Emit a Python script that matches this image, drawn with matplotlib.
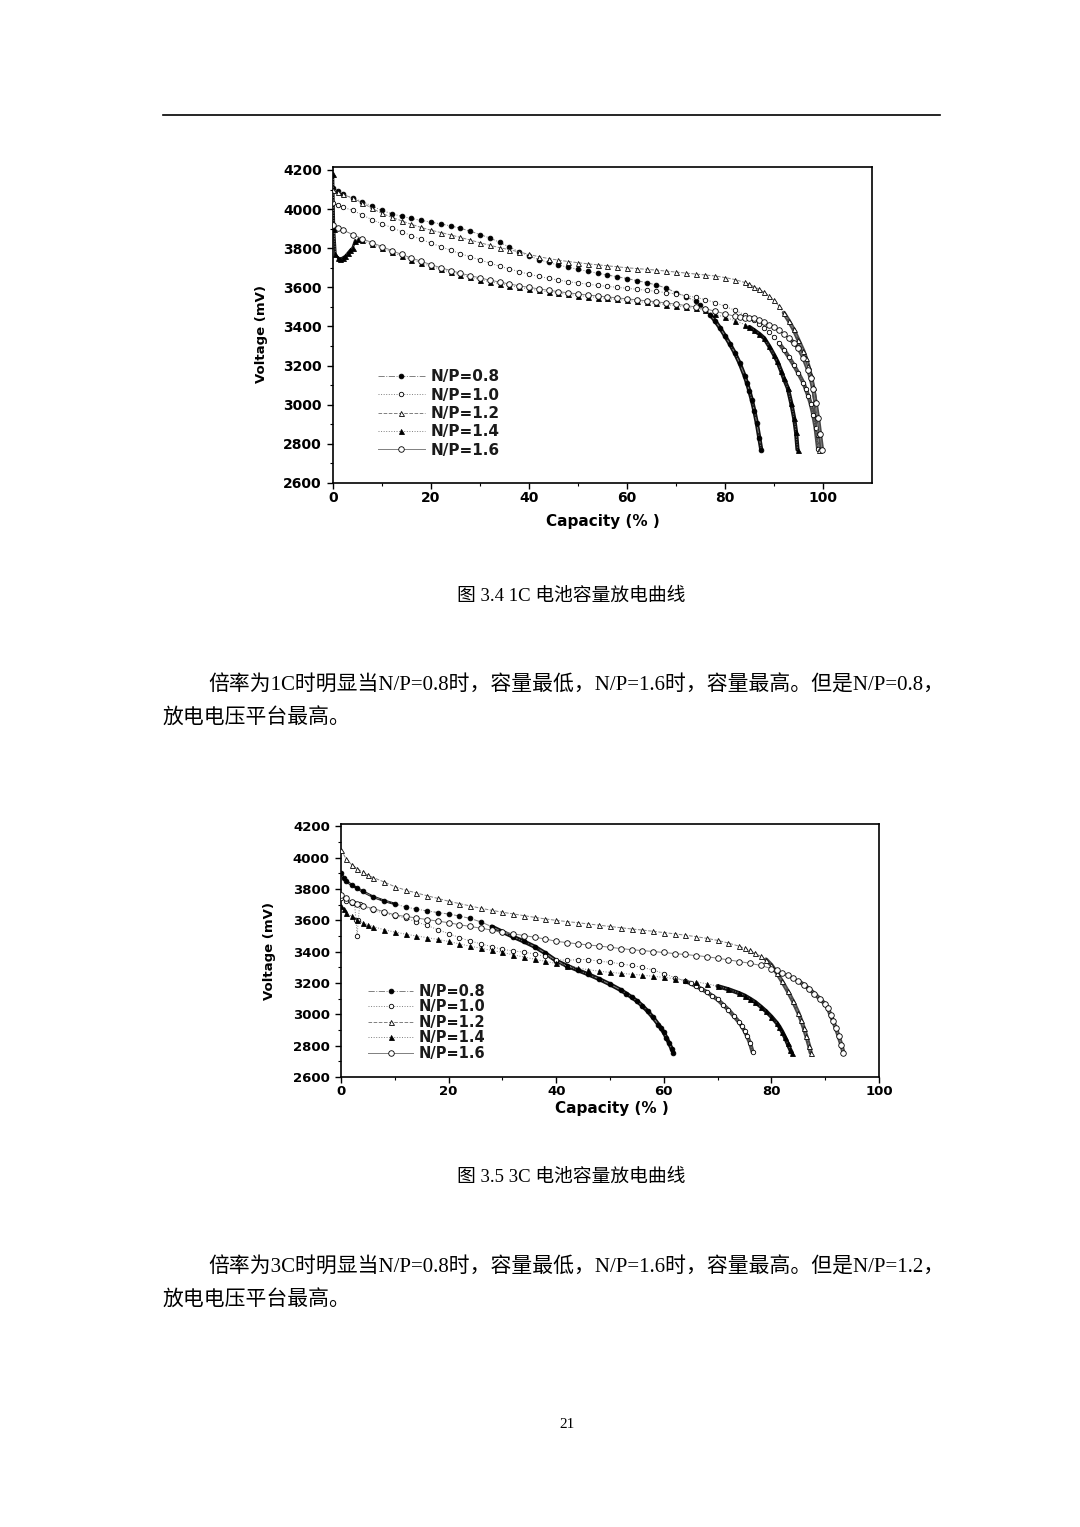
import numpy as np
import matplotlib.pyplot as plt
from matplotlib.lines import Line2D
from matplotlib.ticker import MultipleLocator

plt.rcParams['font.family'] = ['DejaVu Sans']

labels = ['N/P=0.8', 'N/P=1.0', 'N/P=1.2', 'N/P=1.4', 'N/P=1.6']

# ---- 1C discharge (Capacity %, Voltage mV) ----
x08_1c = [0, 1, 2, 4, 6, 8, 10, 12, 14, 16, 18, 20, 22, 24, 26, 28, 30, 32, 34, 36, 38, 40, 42, 44, 46, 48, 50,
          52, 54, 56, 58, 60, 62, 64, 66, 68, 70, 72, 74, 75, 76, 77, 78, 79, 80, 81, 82, 83, 84, 84.5, 85, 85.5,
          86, 86.5, 87, 87.4]
v08_1c = [4110, 4090, 4075, 4058, 4038, 4015, 3993, 3976, 3963, 3952, 3942, 3933, 3924, 3914, 3902, 3887, 3870,
          3852, 3830, 3806, 3782, 3760, 3742, 3727, 3714, 3703, 3692, 3682, 3672, 3663, 3654, 3645, 3634, 3624,
          3612, 3596, 3573, 3552, 3530, 3510, 3487, 3460, 3428, 3392, 3352, 3310, 3265, 3212, 3148, 3110, 3068,
          3022, 2968, 2905, 2830, 2770]

x10_1c = [0, 1, 2, 4, 6, 8, 10, 12, 14, 16, 18, 20, 22, 24, 26, 28, 30, 32, 34, 36, 38, 40, 42, 44, 46, 48, 50,
          52, 54, 56, 58, 60, 62, 64, 66, 68, 70, 72, 74, 76, 78, 80, 82, 84, 86, 87, 88, 89, 90, 91, 92, 93, 94,
          95, 96, 96.5, 97, 97.5, 98, 98.5, 99]
v10_1c = [4030, 4020, 4010, 3993, 3970, 3945, 3925, 3905, 3885, 3864, 3845, 3826, 3808, 3790, 3772, 3756, 3740,
          3724, 3708, 3694, 3680, 3667, 3656, 3646, 3637, 3629, 3622, 3616, 3610, 3605, 3600, 3595, 3590, 3585,
          3579, 3573, 3566, 3558, 3549, 3537, 3522, 3503, 3483, 3460, 3432, 3414, 3394, 3370, 3345, 3315, 3282,
          3245, 3204, 3160, 3112, 3080, 3045, 3005, 2950, 2880, 2775]

x12_1c = [0, 1, 2, 4, 6, 8, 10, 12, 14, 16, 18, 20, 22, 24, 26, 28, 30, 32, 34, 36, 38, 40, 42, 44, 46, 48, 50,
          52, 54, 56, 58, 60, 62, 64, 66, 68, 70, 72, 74, 76, 78, 80, 82, 84, 85, 86, 87, 88, 89, 90, 91, 92, 93,
          94, 95, 96, 96.5, 97, 97.5, 98, 98.4, 98.7, 99.0, 99.2]
v12_1c = [4100, 4088, 4076, 4055, 4032, 4003, 3978, 3958, 3940, 3922, 3906, 3892, 3880, 3868, 3855, 3842, 3828,
          3815, 3803, 3792, 3781, 3768, 3757, 3747, 3739, 3732, 3726, 3720, 3715, 3710, 3705, 3700, 3696, 3692,
          3688, 3683, 3678, 3673, 3668, 3663, 3658, 3650, 3640, 3625, 3615, 3603, 3590, 3574, 3556, 3533, 3505,
          3470, 3430, 3385, 3330, 3275, 3240, 3200, 3150, 3090, 3020, 2940, 2850, 2770]

x14_1c = [0, 0.2, 0.5, 1, 1.5, 2, 2.5, 3, 3.5, 4, 4.5, 5, 6, 8, 10, 12, 14, 16, 18, 20, 22, 24, 26, 28, 30, 32,
          34, 36, 38, 40, 42, 44, 46, 48, 50, 52, 54, 56, 58, 60, 62, 64, 66, 68, 70, 72, 74, 76, 78, 80, 82, 84,
          85, 86, 87, 88, 89, 90, 90.7, 91.5, 92, 92.8, 93.5, 94.1, 94.5, 94.8]
v14_1c = [4180, 3900, 3770, 3752, 3745, 3752, 3760, 3775, 3790, 3802, 3838, 3846, 3840, 3820, 3800, 3780, 3760,
          3742, 3725, 3708, 3692, 3678, 3664, 3652, 3640, 3629, 3619, 3609, 3600, 3592, 3584, 3577, 3570, 3564,
          3558, 3553, 3548, 3543, 3538, 3533, 3528, 3523, 3518, 3512, 3506, 3499, 3492, 3482, 3462, 3447, 3430,
          3410, 3397, 3380, 3362, 3340, 3300, 3255, 3221, 3170, 3135, 3086, 3010, 2933, 2860, 2770]

x16_1c = [0, 1, 2, 4, 6, 8, 10, 12, 14, 16, 18, 20, 22, 24, 26, 28, 30, 32, 34, 36, 38, 40, 42, 44, 46, 48, 50,
          52, 54, 56, 58, 60, 62, 64, 66, 68, 70, 72, 74, 76, 78, 80, 82, 83, 84, 85, 86, 87, 88, 89, 90, 91, 92,
          93, 94, 95, 96, 97, 97.5, 98, 98.5, 99, 99.4, 99.8]
v16_1c = [3920, 3905, 3893, 3870, 3848, 3828, 3808, 3788, 3768, 3750, 3733, 3716, 3700, 3686, 3672, 3660, 3648,
          3637, 3627, 3617, 3608, 3600, 3592, 3585, 3578, 3572, 3566, 3561, 3556, 3551, 3546, 3541, 3536, 3531,
          3526, 3520, 3514, 3507, 3500, 3490, 3478, 3465, 3452, 3446, 3442, 3444, 3442, 3434, 3423, 3410, 3395,
          3380, 3362, 3340, 3318, 3290, 3240, 3175, 3135, 3080, 3010, 2930, 2850, 2770]

# ---- 3C discharge ----
x08_3c = [0, 0.5, 1, 2, 3, 4, 6, 8, 10, 12, 14, 16, 18, 20, 22, 24, 26, 28, 30, 32, 34, 36, 38, 40, 42, 44, 46,
          48, 50, 52, 53, 54, 55, 56, 57, 58, 59, 59.5, 60, 60.5, 61, 61.5, 61.8]
v08_3c = [3900, 3870, 3850, 3825, 3805, 3785, 3750, 3725, 3705, 3685, 3672, 3660, 3650, 3640, 3628, 3612, 3590,
          3560, 3527, 3495, 3465, 3432, 3390, 3342, 3310, 3282, 3255, 3225, 3192, 3155, 3133, 3110, 3085, 3055,
          3020, 2980, 2935, 2910, 2885, 2850, 2815, 2778, 2755]

x10_3c = [0, 1, 2, 2.5, 2.8, 3.0, 3.2, 3.5, 4, 6, 8, 10, 12, 14, 16, 18, 20, 22, 24, 26, 28, 30, 32, 34, 36, 38,
          40, 42, 44, 46, 48, 50, 52, 54, 56, 58, 60, 62, 64, 65, 66, 67, 68, 69, 70, 71, 72, 73, 74, 74.5, 75,
          75.5, 76, 76.5]
v10_3c = [3740, 3725, 3712, 3710, 3600, 3500, 3600, 3705, 3690, 3665, 3645, 3630, 3615, 3590, 3568, 3540, 3515,
          3490, 3468, 3450, 3432, 3415, 3405, 3397, 3385, 3370, 3350, 3344, 3350, 3350, 3338, 3333, 3322, 3312,
          3300, 3283, 3260, 3235, 3212, 3197, 3180, 3162, 3142, 3118, 3095, 3062, 3030, 2990, 2950, 2925, 2895,
          2860, 2820, 2760]

x12_3c = [0, 1, 2, 3, 4, 5, 6, 8, 10, 12, 14, 16, 18, 20, 22, 24, 26, 28, 30, 32, 34, 36, 38, 40, 42, 44, 46, 48,
          50, 52, 54, 56, 58, 60, 62, 64, 66, 68, 70, 72, 74, 75, 76, 77, 78, 79, 80, 81, 82, 83, 84, 85, 85.5,
          86, 86.5, 87, 87.3]
v12_3c = [4050, 3990, 3955, 3930, 3908, 3890, 3873, 3845, 3815, 3793, 3775, 3757, 3740, 3722, 3707, 3692, 3677,
          3664, 3652, 3641, 3630, 3619, 3609, 3600, 3592, 3585, 3577, 3569, 3561, 3553, 3545, 3538, 3530, 3522,
          3514, 3505, 3496, 3485, 3472, 3455, 3435, 3422, 3408, 3390, 3370, 3350, 3315, 3265, 3210, 3150, 3085,
          3010, 2965, 2915, 2860, 2800, 2755]

x14_3c = [0, 0.5, 1, 2, 3, 4, 5, 6, 8, 10, 12, 14, 16, 18, 20, 22, 24, 26, 28, 30, 32, 34, 36, 38, 40, 42, 44, 46,
          48, 50, 52, 54, 56, 58, 60, 62, 64, 66, 68, 70, 72, 74, 75, 76, 77, 78, 79, 80, 81, 81.5, 82, 82.5, 83,
          83.5, 83.8]
v14_3c = [3690, 3670, 3650, 3625, 3600, 3585, 3572, 3560, 3540, 3525, 3512, 3500, 3490, 3478, 3465, 3450, 3435,
          3422, 3408, 3395, 3380, 3366, 3352, 3338, 3325, 3310, 3296, 3285, 3275, 3268, 3262, 3256, 3250, 3243,
          3236, 3228, 3218, 3207, 3195, 3180, 3160, 3135, 3120, 3100, 3078, 3050, 3020, 2985, 2945, 2920, 2890,
          2855, 2815, 2775, 2755]

x16_3c = [0, 1, 2, 3, 4, 6, 8, 10, 12, 14, 16, 18, 20, 22, 24, 26, 28, 30, 32, 34, 36, 38, 40, 42, 44, 46, 48, 50,
          52, 54, 56, 58, 60, 62, 64, 66, 68, 70, 72, 74, 76, 78, 80, 81, 82, 83, 84, 85, 86, 87, 88, 89, 90, 90.5,
          91, 91.5, 92, 92.5, 93, 93.4]
v16_3c = [3760, 3740, 3720, 3705, 3693, 3675, 3655, 3635, 3625, 3615, 3605, 3595, 3585, 3572, 3561, 3550, 3538,
          3525, 3514, 3503, 3492, 3481, 3466, 3458, 3450, 3443, 3436, 3428, 3420, 3413, 3407, 3401, 3395, 3388,
          3382, 3375, 3368, 3358, 3348, 3337, 3326, 3312, 3292, 3280, 3265, 3250, 3233, 3213, 3190, 3163, 3132,
          3100, 3065, 3040, 2995, 2955, 2910, 2860, 2805, 2755]

# marker / line style per series (0.8, 1.0, 1.2, 1.4, 1.6)
markers = ['o', 'o', '^', '^', 'o']
filled = [True, False, False, True, False]
lstyles = ['-.', ':', '--', ':', '-']
msizes = [3.4, 3.2, 3.6, 3.6, 4.0]

W, H = 1080, 1527
fig = plt.figure(figsize=(W / 100, H / 100), dpi=100)


def draw(ax, xs, vs, tails, heads, lab_size, leg_pos, leg_size, leg_space):
    hs = []
    for i in range(5):
        x = np.array(xs[i], dtype=float)
        v = np.array(vs[i], dtype=float)
        band = '#111111' if filled[i] else '#4a4a4a'
        # dense marker clusters in the steep parts look like a thick band
        m = x >= tails[i]
        ax.plot(x[m], v[m], color=band, lw=3.0, solid_capstyle='round', zorder=2)
        if heads[i] > 0:
            m = x <= heads[i]
            ax.plot(x[m], v[m], color=band, lw=1.8, zorder=2)
        h, = ax.plot(x, v, ls=lstyles[i], color='#808080', lw=0.7, marker=markers[i],
                     ms=msizes[i], mfc='black' if filled[i] else 'white', mec='black',
                     mew=0.6, zorder=3)
        hs.append(h)
    ax.set_ylim(2600, 4215)
    ax.xaxis.set_major_locator(MultipleLocator(20))
    ax.xaxis.set_minor_locator(MultipleLocator(10))
    ax.yaxis.set_major_locator(MultipleLocator(200))
    ax.yaxis.set_minor_locator(MultipleLocator(100))
    ax.tick_params(which='major', direction='out', length=4, width=1.0, labelsize=lab_size, pad=2)
    ax.tick_params(which='minor', direction='out', length=2.5, width=0.8)
    ax.tick_params(axis='y', which='major', pad=4)
    for t in ax.get_xticklabels() + ax.get_yticklabels():
        t.set_fontweight('bold')
    for s in ax.spines.values():
        s.set_linewidth(1.2)
    leg = ax.legend(hs, labels, loc='upper left', bbox_to_anchor=leg_pos, frameon=False,
                    prop={'size': leg_size, 'weight': 'bold'}, handlelength=3.1, handletextpad=0.35,
                    labelspacing=leg_space, borderaxespad=0, borderpad=0, numpoints=1)
    for t in leg.get_texts():
        t.set_color('#1a1a1a')
    return ax


# chart 1 (1C)
ax1 = fig.add_axes([333 / W, 1 - 483 / H, 539 / W, 316 / H])
ax1.set_xlim(0, 110)
draw(ax1, [x08_1c, x10_1c, x12_1c, x14_1c, x16_1c], [v08_1c, v10_1c, v12_1c, v14_1c, v16_1c],
     [77, 91, 92, 85, 93], [0, 0, 0, 4.5, 0], 10, (0.083, 0.36), 11, 0.22)
ax1.set_xticks([0, 20, 40, 60, 80, 100])
ax1.set_xticks(np.arange(10, 110, 10), minor=True)
for t in ax1.get_xticklabels():
    t.set_fontweight('bold')
ax1.set_xlabel('Capacity (% )', fontsize=11, fontweight='bold', va='center')
ax1.xaxis.set_label_coords(0.501, -0.123)
ax1.set_ylabel('Voltage (mV)', fontsize=9.5, fontweight='bold', va='center', ha='center')
ax1.yaxis.set_label_coords(-0.132, 0.47)

# chart 2 (3C)
ax2 = fig.add_axes([341 / W, 1 - 1077 / H, 538 / W, 253 / H])
ax2.set_xlim(0, 100)
draw(ax2, [x08_3c, x10_3c, x12_3c, x14_3c, x16_3c], [v08_3c, v10_3c, v12_3c, v14_3c, v16_3c],
     [27, 63, 79, 70, 85], [10, 0, 0, 0, 0], 9.5, (0.05, 0.368), 10.5, 0.03)
ax2.set_xlabel('Capacity (% )', fontsize=11, fontweight='bold', va='center')
ax2.xaxis.set_label_coords(0.504, -0.123)
ax2.set_ylabel('Voltage (mV)', fontsize=9.5, fontweight='bold', va='center', ha='center')
ax2.yaxis.set_label_coords(-0.132, 0.5)

# page text
serif = ['Liberation Serif', 'Noto Sans CJK SC']


def page_text(x, y, s, size, ha='left'):
    fig.text(x / W, 1 - y / H, s, fontsize=size, family=serif, ha=ha, va='center')


fig.add_artist(Line2D([163 / W, 940 / W], [1 - 115 / H, 1 - 115 / H], color='black', lw=1.2))

page_text(571, 596, '图 3.4 1C 电池容量放电曲线', 13.5, ha='center')
page_text(208, 685, '倍率为1C时明显当N/P=0.8时，容量最低，N/P=1.6时，容量最高。但是N/P=0.8，', 15)
page_text(163, 719, '放电电压平台最高。', 15)

page_text(571, 1177, '图 3.5 3C 电池容量放电曲线', 13.5, ha='center')
page_text(208, 1267, '倍率为3C时明显当N/P=0.8时，容量最低，N/P=1.6时，容量最高。但是N/P=1.2，', 15)
page_text(163, 1301, '放电电压平台最高。', 15)

page_text(567, 1425, '21', 11, ha='center')

fig.savefig('out.png', dpi=100, facecolor='white')
